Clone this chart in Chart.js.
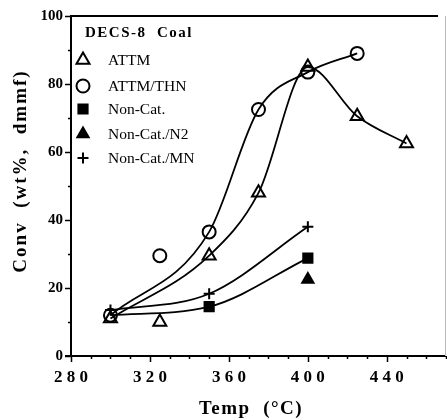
<!DOCTYPE html>
<html>
<head>
<meta charset="utf-8">
<script src="https://cdn.jsdelivr.net/npm/chart.js@4/dist/chart.umd.min.js"></script>
<style>
 html, body {margin:0; padding:0; background:#fff;}
 #box {position:relative; width:447px; height:418px;}
</style>
</head>
<body>
<div id="box"><canvas id="chart" width="447" height="418"></canvas></div>
<script>
// MEASURED RUNS (temperature in C, conversion wt% dmmf)
var temp_attm    = [300, 325, 350, 375, 400, 425, 450];
var conv_attm    = [11, 10, 29.5, 48, 85, 70.5, 62.5];

var temp_thn     = [300, 325, 350, 375, 400, 425];
var conv_thn     = [12, 29.5, 36.5, 72.5, 83.5, 89];

var temp_noncat  = [350, 400];
var conv_noncat  = [14.5, 28.8];

var temp_n2      = [400];
var conv_n2      = [22.5];

var temp_mn      = [300, 350, 400];
var conv_mn      = [13.5, 18.3, 38];

// HAND-DRAWN TREND CURVES
var fit_attm_t   = [300, 350, 375, 400, 425, 450];
var fit_attm_c   = [11, 29.5, 48, 85, 70.5, 62.5];

var fit_thn_t    = [300, 350, 375, 400, 425];
var fit_thn_c    = [12, 36.5, 72.5, 83.5, 89];

var fit_noncat_t = [300, 350, 400];
var fit_noncat_c = [12, 14.5, 28.8];

var fit_mn_t     = [300, 350, 400];
var fit_mn_c     = [13.5, 18.3, 38];

// AXES
var x_min = 280, x_max = 470, x_step = 10, x_label_every = 40;
var y_min = 0,   y_max = 100, y_step = 10, y_label_every = 20;

var legend_title = "DECS-8  Coal";
var x_title      = "Temp  (°C)";
var y_title      = "Conv  (wt%,  dmmf)";

var serif = "'Liberation Serif', 'DejaVu Serif', serif";


function Points(xs, ys)
{
 var list = [];
 for(var i = 0; i < xs.length; i++) list.push({x:xs[i], y:ys[i]});
 return list;
}

function Curve(label, xs, ys)
{
 return {
  label, data:Points(xs, ys), showLine:true, pointRadius:0, pointHoverRadius:0,
  borderColor:"#000", borderWidth:1.8, cubicInterpolationMode:"monotone", fill:false
 };
}

function Markers(label, xs, ys, style, radius, fill)
{
 return {
  label, data:Points(xs, ys), showLine:false, pointStyle:style, pointRadius:radius,
  pointBorderColor:"#000", pointBorderWidth:2, pointBackgroundColor:fill,
  borderColor:"#000", backgroundColor:fill, inLegend:true
 };
}

var datasets =
[
 Curve("fit-attm",   fit_attm_t,   fit_attm_c),
 Curve("fit-thn",    fit_thn_t,    fit_thn_c),
 Curve("fit-noncat", fit_noncat_t, fit_noncat_c),
 Curve("fit-mn",     fit_mn_t,     fit_mn_c),

 Markers("ATTM",        temp_attm,   conv_attm,   "triangle", 7.5, "rgba(0,0,0,0)"),
 Markers("ATTM/THN",    temp_thn,    conv_thn,    "circle",   6.5, "rgba(0,0,0,0)"),
 Markers("Non-Cat.",    temp_noncat, conv_noncat, "rect",     6.5, "#000"),
 Markers("Non-Cat./N2", temp_n2,     conv_n2,     "triangle", 6.5, "#000"),
 Markers("Non-Cat./MN", temp_mn,     conv_mn,     "cross",    5.5, "rgba(0,0,0,0)")
];


// FRAME, TICK MARKS, TITLES AND LEGEND
var decor =
{
 id: "decor",
 afterDraw(chart)
 {
  var ctx  = chart.ctx;
  var area = chart.chartArea;
  var sx   = chart.scales.x;
  var sy   = chart.scales.y;

  ctx.save();
  ctx.strokeStyle = "#000";
  ctx.fillStyle   = "#000";

  // axis lines
  ctx.lineWidth = 2;
  ctx.beginPath();
  ctx.moveTo(area.left, area.top - 1);
  ctx.lineTo(area.left, area.bottom);
  ctx.moveTo(area.left - 6, area.bottom);
  ctx.lineTo(area.right, area.bottom);
  ctx.moveTo(area.left, area.top);
  ctx.lineTo(area.right - 8, area.top);
  ctx.stroke();

  // faint right border
  ctx.strokeStyle = "#bbb";
  ctx.lineWidth   = 1;
  ctx.beginPath();
  ctx.moveTo(area.right - 0.5, area.top);
  ctx.lineTo(area.right - 0.5, area.bottom);
  ctx.stroke();

  // tick marks
  ctx.strokeStyle = "#000";
  ctx.lineWidth   = 1.5;
  ctx.beginPath();
  for(var tick of sx.ticks)
  {
   var px  = Math.round(sx.getPixelForValue(tick.value)) + 0.5;
   var len = (tick.value % x_label_every == 0) ? 6 : 3;
   ctx.moveTo(px, area.bottom);
   ctx.lineTo(px, area.bottom + len);
  }
  for(var tick of sy.ticks)
  {
   var py  = Math.round(sy.getPixelForValue(tick.value)) + 0.5;
   var len = (tick.value % y_label_every == 0) ? 6 : 3;
   ctx.moveTo(area.left, py);
   ctx.lineTo(area.left - len, py);
  }
  ctx.stroke();

  // axis titles
  ctx.font          = "bold 19px " + serif;
  ctx.letterSpacing = "1.5px";
  ctx.textAlign     = "center";
  ctx.textBaseline  = "alphabetic";
  ctx.fillText(x_title, 251, 414);

  ctx.save();
  ctx.translate(26, 171);
  ctx.rotate(-Math.PI / 2);
  ctx.letterSpacing = "2px";
  ctx.fillText(y_title, 0, 0);
  ctx.restore();

  // legend title
  ctx.textAlign     = "left";
  ctx.font          = "bold 15px " + serif;
  ctx.letterSpacing = "1.5px";
  ctx.fillText(legend_title, 85, 37);

  // legend rows
  ctx.font          = "15.5px " + serif;
  ctx.letterSpacing = "0px";
  var rows = [60, 86, 109, 134, 158];
  var n    = 0;
  for(var ds of chart.data.datasets)
  {
   if(!ds.inLegend) continue;
   var cy = rows[n];

   ctx.save();
   ctx.lineWidth   = ds.pointBorderWidth;
   ctx.strokeStyle = "#000";
   ctx.fillStyle   = ds.pointBackgroundColor;
   Chart.helpers.drawPoint(ctx, {pointStyle:ds.pointStyle, radius:ds.pointRadius, borderWidth:ds.pointBorderWidth, rotation:0}, 83, cy);
   ctx.restore();

   ctx.fillText(ds.label, 108, cy + 5);
   n++;
  }

  ctx.restore();
 }
};


var config =
{
 type: "scatter",
 data: {datasets},
 options:
 {
  responsive: false,
  animation:  false,
  layout:     {autoPadding:false, padding:{top:16, right:1, left:0, bottom:0}},
  plugins:    {legend:{display:false}, tooltip:{enabled:false}},
  scales:
  {
   x:
   {
    type:"linear", min:x_min, max:x_max,
    afterFit(scale) { scale.height = 62; scale.paddingLeft = 0; scale.paddingRight = 0; },
    grid:   {display:false, drawTicks:false},
    border: {display:false},
    ticks:
    {
     stepSize:x_step, autoSkip:false, maxRotation:0, padding:11, color:"#000",
     font:{family:serif, size:17, weight:"bold"},
     callback:(v) => (v % x_label_every == 0) ? String(v).split("").join(" ") : ""
    }
   },
   y:
   {
    type:"linear", min:y_min, max:y_max,
    afterFit(scale) { scale.width = 71; scale.paddingTop = 0; scale.paddingBottom = 0; },
    grid:   {display:false, drawTicks:false},
    border: {display:false},
    ticks:
    {
     stepSize:y_step, autoSkip:false, padding:8, color:"#000",
     font:{family:serif, size:15, weight:"bold"},
     callback:(v) => (v % y_label_every == 0) ? String(v) : ""
    }
   }
  }
 },
 plugins: [decor]
};

var chart = new Chart(document.getElementById("chart").getContext("2d"), config);
</script>
</body>
</html>
